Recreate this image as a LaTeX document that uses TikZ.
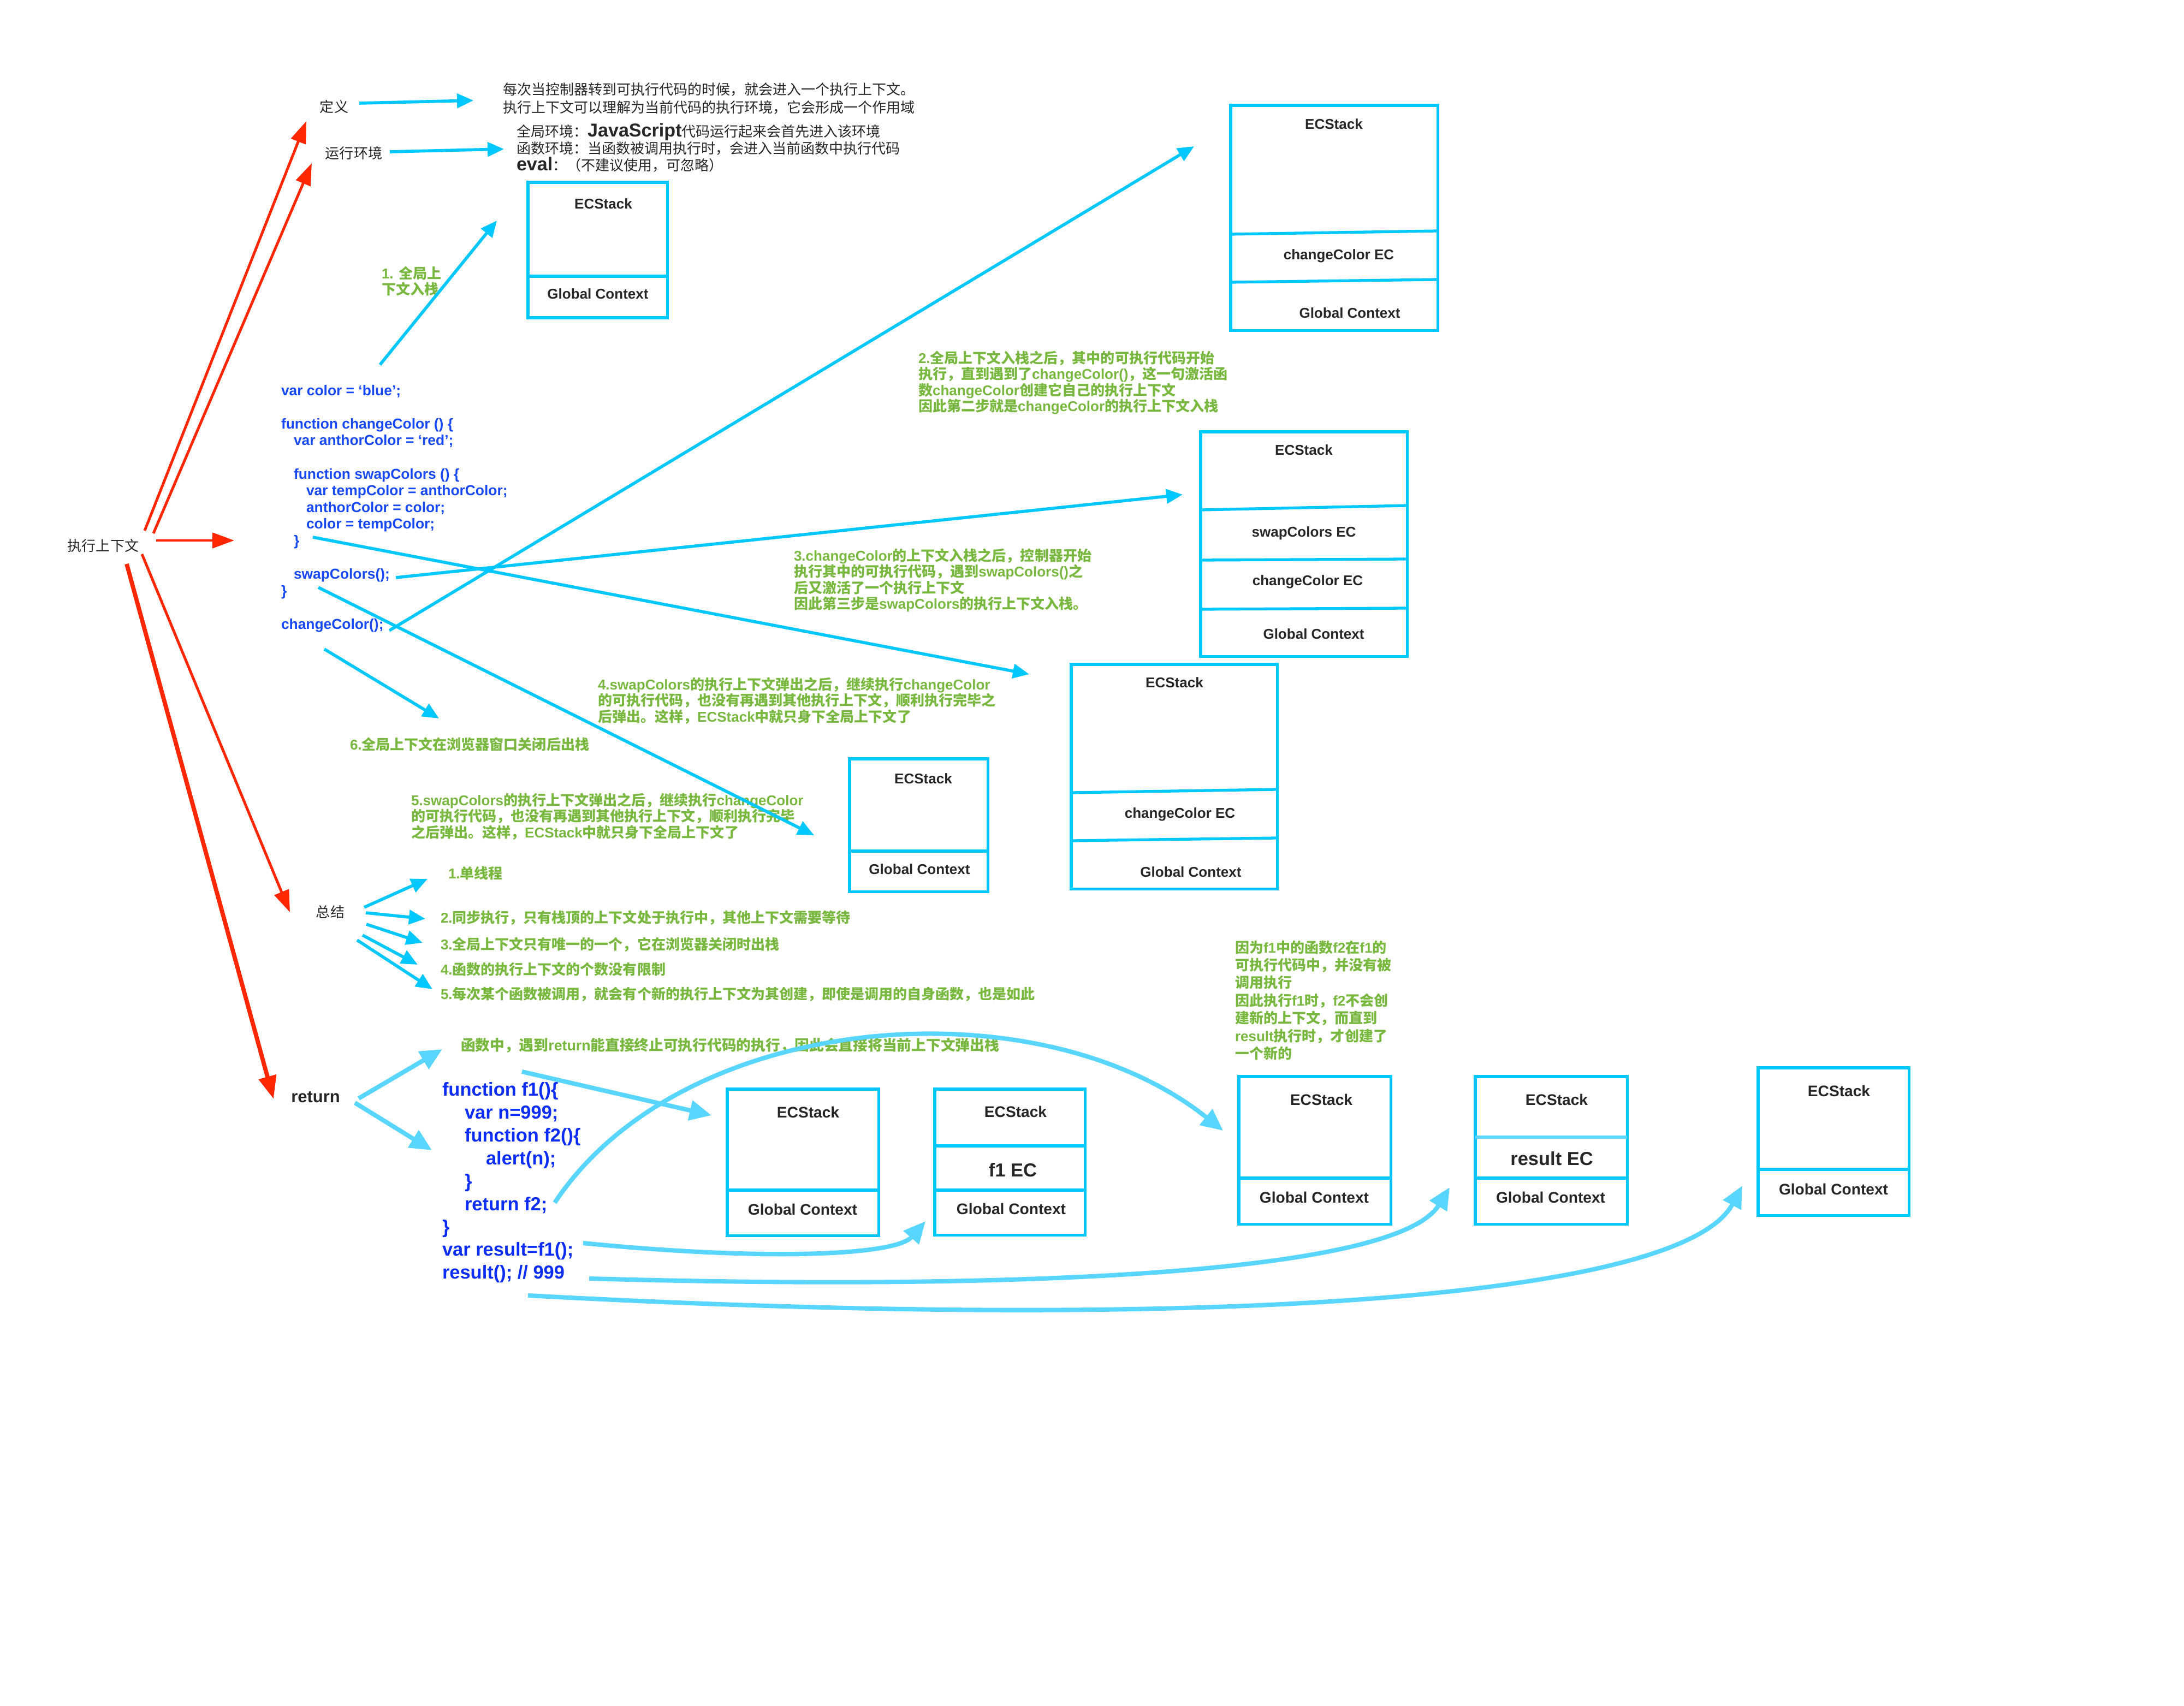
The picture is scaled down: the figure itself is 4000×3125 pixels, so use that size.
\documentclass[tikz,border=0pt]{standalone}
\usepackage{fontspec}
\setmainfont{Liberation Sans}
\newfontfamily\cjkfam{Noto Sans CJK SC}
\usetikzlibrary{arrows.meta}

% switch to the CJK family for ideographs and full-width punctuation
\newcount\cjkcode
\newXeTeXintercharclass\cjkclass
\def\markcjk#1#2{\cjkcode=#1 \loop\XeTeXcharclass\cjkcode=\cjkclass
  \advance\cjkcode by 1 \ifnum\cjkcode<#2 \repeat}
\markcjk{"3000}{"3040}
\markcjk{"4E00}{"A000}
\markcjk{"FF00}{"FFF0}
\XeTeXinterchartoks 0 \cjkclass = {\cjkfam}
\XeTeXinterchartoks 4095 \cjkclass = {\cjkfam}
\XeTeXinterchartoks \cjkclass 0 = {\rmfamily}
\XeTeXinterchartoks \cjkclass 4095 = {\rmfamily}
\XeTeXinterchartokenstate=1

\definecolor{ink}{RGB}{38,38,38}
\definecolor{leaf}{RGB}{120,184,62}
\definecolor{codeblue}{RGB}{22,72,245}
\definecolor{deepblue}{RGB}{12,45,245}
\definecolor{sky}{RGB}{0,200,255}
\definecolor{skysoft}{RGB}{88,214,255}
\definecolor{hotred}{RGB}{255,38,0}

\begin{document}
\begin{tikzpicture}[x=0.01cm,y=-0.01cm,
  every node/.style={inner sep=0pt,outer sep=0pt},
  blk/.style={text=ink,font=\fontsize{7.4}{9.4}\selectfont},
  note/.style={text=leaf,font=\bfseries\fontsize{7.4}{8.3}\selectfont,align=left,anchor=north west},
  code/.style={text=codeblue,font=\bfseries\fontsize{7.5}{8.7}\selectfont,align=left,anchor=north west},
  bigcode/.style={text=deepblue,font=\bfseries\fontsize{9.8}{11.9}\selectfont,align=left,anchor=north west},
  stk/.style={draw=sky,line width=1.5pt,anchor=north west},
  divl/.style={draw=sky,line width=1.5pt},
  boxlbl/.style={text=ink,font=\bfseries\fontsize{7.4}{9}\selectfont},
  boxlbll/.style={text=ink,font=\bfseries\fontsize{8}{9}\selectfont},
  eclbl/.style={text=ink,font=\bfseries\fontsize{9.8}{11}\selectfont},
  flow/.style={draw=sky,line width=1.6pt,-{Triangle[length=0.3cm,width=0.26cm]}},
  hot/.style={draw=hotred,line width=1.4pt,-{Triangle[length=0.4cm,width=0.28cm]}},
  hotthick/.style={draw=hotred,line width=2.2pt,-{Triangle[length=0.42cm,width=0.32cm]}},
  soft/.style={draw=skysoft,line width=2.3pt,-{Triangle[length=0.4cm,width=0.36cm]}},
]
\fill[white] (0,0) rectangle (4000,3125);
\useasboundingbox (0,0) rectangle (4000,3125);

% ---------- left labels ----------
\node[blk] (exec) at (189,1000) {执行上下文};
\node[blk] (def) at (612,196) {定义};
\node[blk] (env) at (648,281) {运行环境};
\node[blk] (sum) at (605,1671) {总结};
\node[text=ink,font=\bfseries\fontsize{8.8}{10}\selectfont] (ret) at (578,2010) {return};

% ---------- definitions ----------
\node[blk,align=left,anchor=north west] (deftxt) at (921,151)
  {每次当控制器转到可执行代码的时候，就会进入一个执行上下文。\\执行上下文可以理解为当前代码的执行环境，它会形成一个作用域};
\node[blk,font=\fontsize{7.4}{8.8}\selectfont,align=left,anchor=north west] (envtxt) at (946,226)
  {全局环境：{\bfseries\fontsize{9.7}{9}\selectfont JavaScript}代码运行起来会首先进入该环境\\
   函数环境：当函数被调用执行时，会进入当前函数中执行代码\\
   {\bfseries\fontsize{9.7}{9}\selectfont eval}：（不建议使用，可忽略）};

% ---------- code sample ----------
\node[code] (src) at (515,705) {var color = ‘blue’;\\
\mbox{}\\
function changeColor () \{\\
\hspace*{0.23cm}var anthorColor = ‘red’;\\
\mbox{}\\
\hspace*{0.23cm}function swapColors () \{\\
\hspace*{0.46cm}var tempColor = anthorColor;\\
\hspace*{0.46cm}anthorColor = color;\\
\hspace*{0.46cm}color = tempColor;\\
\hspace*{0.23cm}\}\\
\mbox{}\\
\hspace*{0.23cm}swapColors();\\
\}\\
\mbox{}\\
changeColor();};

% ---------- step notes ----------
\node[note] (n1) at (699,488) {1. 全局上\\下文入栈};
\node[note] (n2) at (1682,643) {2.全局上下文入栈之后，其中的可执行代码开始\\执行，直到遇到了changeColor()，这一句激活函\\数changeColor创建它自己的执行上下文\\因此第二步就是changeColor的执行上下文入栈};
\node[note] (n3) at (1454,1005) {3.changeColor的上下文入栈之后，控制器开始\\执行其中的可执行代码，遇到swapColors()之\\后又激活了一个执行上下文\\因此第三步是swapColors的执行上下文入栈。};
\node[note] (n4) at (1095,1241) {4.swapColors的执行上下文弹出之后，继续执行changeColor\\的可执行代码，也没有再遇到其他执行上下文，顺利执行完毕之\\后弹出。这样，ECStack中就只身下全局上下文了};
\node[note,anchor=west] (n6) at (641,1363) {6.全局上下文在浏览器窗口关闭后出栈};
\node[note] (n5) at (753,1453) {5.swapColors的执行上下文弹出之后，继续执行changeColor\\的可执行代码，也没有再遇到其他执行上下文，顺利执行完毕\\之后弹出。这样，ECStack中就只身下全局上下文了};

% ---------- summary ----------
\node[note,anchor=west] (k1) at (821,1600) {1.单线程};
\node[note,anchor=west] (k2) at (807,1681) {2.同步执行，只有栈顶的上下文处于执行中，其他上下文需要等待};
\node[note,anchor=west] (k3) at (807,1730) {3.全局上下文只有唯一的一个，它在浏览器关闭时出栈};
\node[note,anchor=west] (k4) at (807,1776) {4.函数的执行上下文的个数没有限制};
\node[note,anchor=west] (k5) at (807,1821) {5.每次某个函数被调用，就会有个新的执行上下文为其创建，即使是调用的自身函数，也是如此};

% ---------- return part ----------
\node[note,anchor=west,font=\bfseries\fontsize{7.6}{9}\selectfont] (rnote) at (844,1915) {函数中，遇到return能直接终止可执行代码的执行，因此会直接将当前上下文弹出栈};
\node[bigcode] (f1src) at (810,1983) {function f1()\{\\
\hspace*{0.41cm}var n=999;\\
\hspace*{0.41cm}function f2()\{\\
\hspace*{0.8cm}alert(n);\\
\hspace*{0.41cm}\}\\
\hspace*{0.41cm}return f2;\\
\}\\
var result=f1();\\
result(); // 999};
\node[note,font=\bfseries\fontsize{7.4}{9.2}\selectfont] (why) at (2262,1723) {因为f1中的函数f2在f1的\\可执行代码中，并没有被\\调用执行\\因此执行f1时，f2不会创\\建新的上下文，而直到\\result执行时，才创建了\\一个新的};

% ---------- stacks (upper) ----------
\node[stk,minimum width=2.55cm,minimum height=2.48cm] (s1) at (967,334) {};
\draw[divl] (967,506) -- (1222,506);
\node[boxlbl] (s1t) at (1105,373) {ECStack};
\node[boxlbl] (s1g) at (1095,538) {Global Context};

\node[stk,minimum width=3.79cm,minimum height=4.12cm] (s2) at (2254,193) {};
\draw[divl] (2254,429) -- (2633,423);
\draw[divl] (2254,517) -- (2633,512);
\node[boxlbl] (s2t) at (2443,227) {ECStack};
\node[boxlbl] (s2c) at (2452,469) {changeColor EC};
\node[boxlbl] (s2g) at (2472,573) {Global Context};

\node[stk,minimum width=3.78cm,minimum height=4.11cm] (s3) at (2199,791) {};
\draw[divl] (2199,934) -- (2577,926);
\draw[divl] (2199,1026) -- (2577,1024);
\draw[divl] (2199,1116) -- (2577,1114);
\node[boxlbl] (s3t) at (2388,824) {ECStack};
\node[boxlbl] (s3s) at (2388,977) {swapColors EC};
\node[boxlbl] (s3c) at (2395,1066) {changeColor EC};
\node[boxlbl] (s3g) at (2406,1161) {Global Context};

\node[stk,minimum width=3.77cm,minimum height=4.11cm] (s4) at (1962,1217) {};
\draw[divl] (1962,1452) -- (2339,1446);
\draw[divl] (1962,1540) -- (2339,1535);
\node[boxlbl] (s4t) at (2151,1250) {ECStack};
\node[boxlbl] (s4c) at (2161,1492) {changeColor EC};
\node[boxlbl] (s4g) at (2181,1597) {Global Context};

\node[stk,minimum width=2.53cm,minimum height=2.43cm] (s5) at (1556,1390) {};
\draw[divl] (1556,1559) -- (1809,1559);
\node[boxlbl] (s5t) at (1691,1426) {ECStack};
\node[boxlbl] (s5g) at (1684,1592) {Global Context};

% ---------- stacks (lower) ----------
\node[stk,minimum width=2.77cm,minimum height=2.68cm] (sa) at (1332,1995) {};
\draw[divl] (1332,2180) -- (1609,2180);
\node[boxlbll] (sat) at (1480,2037) {ECStack};
\node[boxlbll] (sag) at (1470,2215) {Global Context};

\node[stk,minimum width=2.75cm,minimum height=2.67cm] (sb) at (1712,1995) {};
\draw[divl] (1712,2099) -- (1987,2099);
\draw[divl] (1712,2180) -- (1987,2180);
\node[boxlbll] (sbt) at (1860,2036) {ECStack};
\node[eclbl] (sbf) at (1855,2143) {f1 EC};
\node[boxlbll] (sbg) at (1852,2214) {Global Context};

\node[stk,minimum width=2.78cm,minimum height=2.70cm] (sc) at (2269,1972) {};
\draw[divl] (2269,2158) -- (2547,2158);
\node[boxlbll] (sct) at (2420,2014) {ECStack};
\node[boxlbll] (scg) at (2407,2193) {Global Context};

\node[stk,minimum width=2.78cm,minimum height=2.70cm] (sd) at (2702,1972) {};
\draw[divl,draw=skysoft] (2702,2083) -- (2980,2083);
\draw[divl] (2702,2158) -- (2980,2158);
\node[boxlbll] (sdt) at (2851,2014) {ECStack};
\node[eclbl] (sdr) at (2842,2122) {result EC};
\node[boxlbll] (sdg) at (2840,2193) {Global Context};

\node[stk,minimum width=2.76cm,minimum height=2.70cm] (se) at (3220,1956) {};
\draw[divl] (3220,2142) -- (3496,2142);
\node[boxlbll] (set) at (3368,1998) {ECStack};
\node[boxlbll] (seg) at (3358,2178) {Global Context};

% ---------- red arrows from the root ----------
\coordinate (r1s) at (265,972);  \coordinate (r1e) at (561,222);
\coordinate (r2s) at (281,977);  \coordinate (r2e) at (571,299);
\coordinate (r3s) at (286,990);  \coordinate (r3e) at (429,990);
\coordinate (r4s) at (260,1015); \coordinate (r4e) at (531,1671);
\coordinate (r5s) at (232,1033); \coordinate (r5e) at (501,2013);
\draw[hot] (r1s) -- (r1e);
\draw[hot] (r2s) -- (r2e);
\draw[hot] (r3s) -- (r3e);
\draw[hot] (r4s) -- (r4e);
\draw[hotthick] (r5s) -- (r5e);

% ---------- cyan arrows ----------
\coordinate (d1s) at (658,189);  \coordinate (d1e) at (867,184);
\coordinate (d2s) at (714,278);  \coordinate (d2e) at (923,273);
\draw[flow] (d1s) -- (d1e);
\draw[flow] (d2s) -- (d2e);

\coordinate (a1s) at (696,668);  \coordinate (a1e) at (910,404);
\coordinate (a2s) at (713,1155); \coordinate (a2e) at (2187,268);
\coordinate (a3s) at (725,1058); \coordinate (a3e) at (2166,906);
\coordinate (a4s) at (573,984);  \coordinate (a4e) at (1885,1235);
\coordinate (a5s) at (583,1076); \coordinate (a5e) at (1491,1530);
\coordinate (a6s) at (594,1189); \coordinate (a6e) at (804,1316);
\draw[flow] (a1s) -- (a1e);
\draw[flow] (a2s) -- (a2e);
\draw[flow] (a3s) -- (a3e);
\draw[flow] (a4s) -- (a4e);
\draw[flow] (a5s) -- (a5e);
\draw[flow] (a6s) -- (a6e);

% summary fan
\coordinate (k1s) at (667,1662); \coordinate (k1e) at (783,1610);
\coordinate (k2s) at (670,1672); \coordinate (k2e) at (779,1683);
\coordinate (k3s) at (671,1693); \coordinate (k3e) at (774,1727);
\coordinate (k4s) at (664,1713); \coordinate (k4e) at (765,1767);
\coordinate (k5s) at (654,1722); \coordinate (k5e) at (792,1812);
\draw[flow] (k1s) -- (k1e);
\draw[flow] (k2s) -- (k2e);
\draw[flow] (k3s) -- (k3e);
\draw[flow] (k4s) -- (k4e);
\draw[flow] (k5s) -- (k5e);

% return fan and call curves
\coordinate (t1s) at (657,2012); \coordinate (t1e) at (810,1922);
\coordinate (t2s) at (650,2020); \coordinate (t2e) at (791,2107);
\draw[soft] (t1s) -- (t1e);
\draw[soft] (t2s) -- (t2e);

\coordinate (c1s) at (956,1963);  \coordinate (c1e) at (1303,2043);
\coordinate (c2s) at (1016,2203); \coordinate (c2e) at (2240,2071);
\coordinate (c3s) at (1068,2277); \coordinate (c3e) at (1695,2237);
\coordinate (c4s) at (1079,2342); \coordinate (c4e) at (2655,2175);
\coordinate (c5s) at (967,2373);  \coordinate (c5e) at (3191,2172);
\draw[soft] (c1s) -- (c1e);
\draw[soft] (c2s) .. controls (1250,1850) and (1900,1800) .. (c2e);
\draw[soft] (c3s) .. controls (1400,2310) and (1640,2300) .. (c3e);
\draw[soft] (c4s) .. controls (1900,2365) and (2560,2330) .. (c4e);
\draw[soft] (c5s) .. controls (2200,2440) and (3080,2380) .. (c5e);
\end{tikzpicture}
\end{document}
